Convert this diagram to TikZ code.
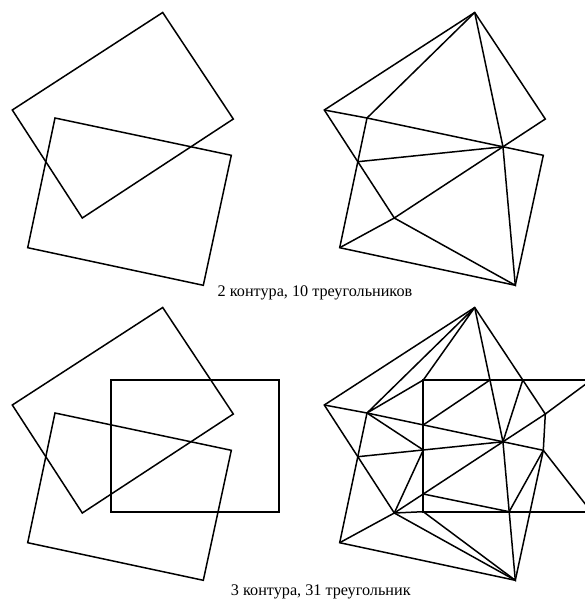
\documentclass[tikz,border=0pt]{standalone}
\usepackage{fontspec}
\setmainfont{Liberation Serif}
\usetikzlibrary{calc}

\tikzset{
  line/.style={line width=1.5pt, black},
  rect/.style={line width=1.8pt, black},
  caption/.style={anchor=base, inner sep=0pt, font=\fontsize{16.2}{18}\selectfont}
}

% corners of the contours, in the panel's own frame
\newcommand\contourpts{%
  \coordinate (At) at (162.7,12.5);
  \coordinate (Ar) at (233.3,119);
  \coordinate (Ab) at (82.3,218);
  \coordinate (Al) at (12.3,110);
  \coordinate (Btl) at (55,118);
  \coordinate (Btr) at (231.3,155.3);
  \coordinate (Bbr) at (203.3,285.3);
  \coordinate (Bbl) at (27.7,247.7);
  \coordinate (Ctl) at (111.3,85);
  \coordinate (Ctr) at (279.3,85);
  \coordinate (Cbr) at (279.3,216.7);
  \coordinate (Cbl) at (111.3,216.7);
  \coordinate (P1) at (intersection of Ar--Ab and Btl--Btr);
  \coordinate (P2) at (intersection of Al--Ab and Btl--Bbl);
}

\begin{document}
\begin{tikzpicture}[x=1pt, y=-1pt]
  \useasboundingbox (0,0) rectangle (585,600);
  \clip (0,0) rectangle (585,600);

  % two contours
  \begin{scope}
    \contourpts
    \draw[line] (At) -- (Ar) -- (Ab) -- (Al) -- cycle;
    \draw[line] (Btl) -- (Btr) -- (Bbr) -- (Bbl) -- cycle;
  \end{scope}

  % their triangulation
  \begin{scope}[shift={(312,0)}]
    \contourpts
    \draw[line] (At) -- (Ar) -- (Ab) -- (Al) -- cycle;
    \draw[line] (Btl) -- (Btr) -- (Bbr) -- (Bbl) -- cycle;
    \draw[line] (At) -- (Btl) -- (Al);
    \draw[line] (At) -- (P1) -- (Bbr) -- (Ab) -- (Bbl);
    \draw[line] (P2) -- (P1);
  \end{scope}

  \node[caption] (lbltop) at (315,296.7) {2 контура, 10 треугольников};

  % three contours
  \begin{scope}[shift={(0,295)}]
    \contourpts
    \draw[line] (At) -- (Ar) -- (Ab) -- (Al) -- cycle;
    \draw[line] (Btl) -- (Btr) -- (Bbr) -- (Bbl) -- cycle;
    \draw[rect] (Ctl) -- (Ctr) -- (Cbr) -- (Cbl) -- cycle;
  \end{scope}

  % their triangulation
  \begin{scope}[shift={(312,295)}]
    \contourpts
    \coordinate (X1) at (intersection of At--P1 and Ctl--Ctr);
    \coordinate (X2) at (intersection of At--Ar and Ctl--Ctr);
    \coordinate (Q1) at (intersection of Btl--Btr and Ctl--Cbl);
    \coordinate (Q2) at (intersection of P2--P1 and Ctl--Cbl);
    \coordinate (Q3) at (intersection of Ab--P1 and Ctl--Cbl);
    \coordinate (Y1) at (intersection of P1--Bbr and Cbl--Cbr);
    \draw[line] (At) -- (Ar) -- (Ab) -- (Al) -- cycle;
    \draw[line] (Btl) -- (Btr) -- (Bbr) -- (Bbl) -- cycle;
    \draw[rect] (Ctl) -- (Ctr) -- (Cbr) -- (Cbl) -- cycle;
    \draw[line] (Al) -- (Btl) -- (At) -- (Ctl) -- (Btl) -- (Q2);
    \draw[line] (At) -- (P1) -- (Bbr) -- (Cbl) -- (Ab) -- (Bbl);
    \draw[line] (Ab) -- (Bbr);
    \draw[line] (P2) -- (P1) -- (X2);
    \draw[line] (Q1) -- (X1);
    \draw[line] (Q2) -- (Ab);
    \draw[line] (Q3) -- (Y1) -- (Btr) -- (Ar) -- (Ctr);
    \draw[line] (Btr) -- (Cbr);
  \end{scope}

  \node[caption] (lblbot) at (320.8,595.8) {3 контура, 31 треугольник};
\end{tikzpicture}
\end{document}
